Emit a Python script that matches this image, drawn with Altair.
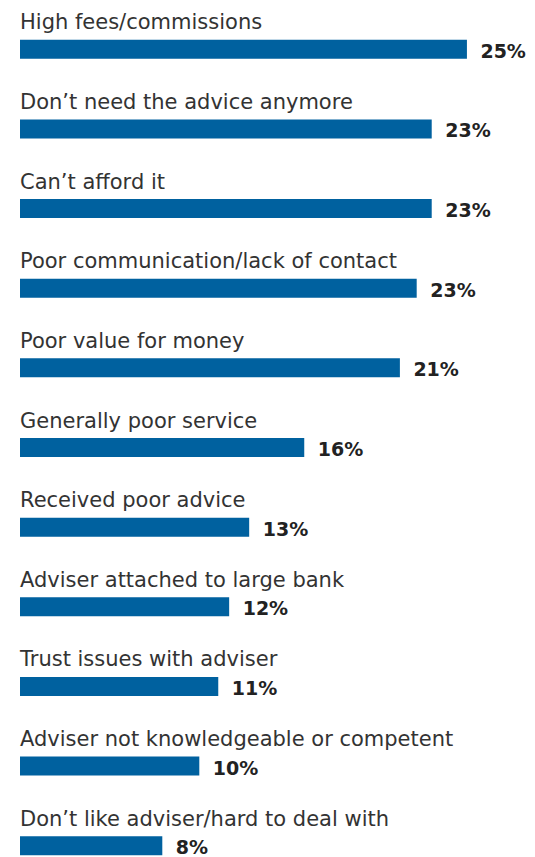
import altair as alt
import pandas as pd

categories = [
    "High fees/commissions",
    "Don\u2019t need the advice anymore",
    "Can\u2019t afford it",
    "Poor communication/lack of contact",
    "Poor value for money",
    "Generally poor service",
    "Received poor advice",
    "Adviser attached to large bank",
    "Trust issues with adviser",
    "Adviser not knowledgeable or competent",
    "Don\u2019t like adviser/hard to deal with",
]
values = [25.0, 23.03, 23.03, 22.19, 21.25, 15.9, 12.82, 11.7, 11.09, 10.03, 7.96]
value_labels = ["25%", "23%", "23%", "23%", "21%", "16%", "13%", "12%", "11%", "10%", "8%"]

df = pd.DataFrame({"category": categories, "value": values, "label": value_labels})

y = alt.Y("category:N", sort=categories, axis=None,
          scale=alt.Scale(paddingInner=0, paddingOuter=0, range=[0, 876]))
x_scale = alt.Scale(domain=[0, 28.36], zero=True, nice=False)

base = alt.Chart(df)

bars = base.mark_bar(color="#00619F", height=19, yOffset=1.5).encode(
    x=alt.X("value:Q", scale=x_scale, axis=None),
    y=y,
)

names = base.mark_text(align="left", baseline="alphabetic", dy=-18.5,
                       font="DejaVu Sans", fontSize=21, color="#333333").encode(
    x=alt.datum(0),
    y=y,
    text="category:N",
)

vals = base.mark_text(align="left", baseline="alphabetic", dx=13.5, dy=10,
                      font="DejaVu Sans", fontSize=19, fontWeight="bold",
                      color="#222222").encode(
    x=alt.X("value:Q", scale=x_scale),
    y=y,
    text="label:N",
)

chart = alt.layer(bars, names, vals).properties(
    width=507,
    height=849,
    padding={"left": 12, "top": 0, "right": 0, "bottom": 0},
    autosize=alt.AutoSizeParams(type="none"),
).configure_view(stroke=None)

chart.save("out.html", embed_options={"renderer": "svg", "actions": False})
